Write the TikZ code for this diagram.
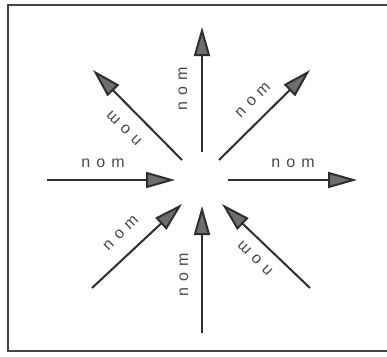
\documentclass[tikz,border=0pt]{standalone}
\usepackage{fontspec}
\setmainfont{Liberation Sans}
\usetikzlibrary{arrows.meta}
\definecolor{linegray}{HTML}{2E2E2E}
\definecolor{headgray}{HTML}{6E6E6E}
\definecolor{textgray}{HTML}{4A4A4A}
\definecolor{framegray}{HTML}{444444}
\begin{document}
\begin{tikzpicture}[x=1pt,y=-1pt,
  ray/.style={draw=linegray, line width=2pt, -{Triangle[length=29pt,width=16pt,fill=headgray]}},
  lab/.style={font=\fontsize{16}{18}\selectfont\addfontfeatures{LetterSpace=38}, text=textgray, inner sep=0pt},
  frame/.style={draw=framegray, line width=2pt}]
\useasboundingbox (0,0) rectangle (387,356);
\fill[white] (0,0) rectangle (387,356);
% frame
\draw[frame] (387,4.5) -- (7.5,4.5) -- (7.5,350.5) -- (387,350.5);
% endpoints
\coordinate (ustart) at (202,152); \coordinate (utip) at (202,27);
\coordinate (dstart) at (202,333); \coordinate (dtip) at (202,206);
\coordinate (lstart) at (47,180);  \coordinate (ltip) at (175,180);
\coordinate (rstart) at (228,180); \coordinate (rtip) at (357,180);
\coordinate (ulstart) at (182,160); \coordinate (ultip) at (93,70);
\coordinate (urstart) at (219,160); \coordinate (urtip) at (310,70);
\coordinate (llstart) at (92,288);  \coordinate (lltip) at (182,204);
\coordinate (lrstart) at (310,288); \coordinate (lrtip) at (222,204);
% arrows
\draw[ray] (ustart) -- (utip);
\draw[ray] (dstart) -- (dtip);
\draw[ray] (lstart) -- (ltip);
\draw[ray] (rstart) -- (rtip);
\draw[ray] (ulstart) -- (ultip);
\draw[ray] (urstart) -- (urtip);
\draw[ray] (llstart) -- (lltip);
\draw[ray] (lrstart) -- (lrtip);
% labels
\node[lab, rotate=90]  (labu)  at (183,89)  {nom};
\node[lab, rotate=90]  (labd)  at (184,275) {nom};
\node[lab]             (labl)  at (103,163) {nom};
\node[lab]             (labr)  at (293,163) {nom};
\node[lab, rotate=135] (labul) at (124,128) {nom};
\node[lab, rotate=45]  (labur) at (253,100) {nom};
\node[lab, rotate=45]  (labll) at (121,233) {nom};
\node[lab, rotate=135] (lablr) at (255,258) {nom};
\end{tikzpicture}
\end{document}
